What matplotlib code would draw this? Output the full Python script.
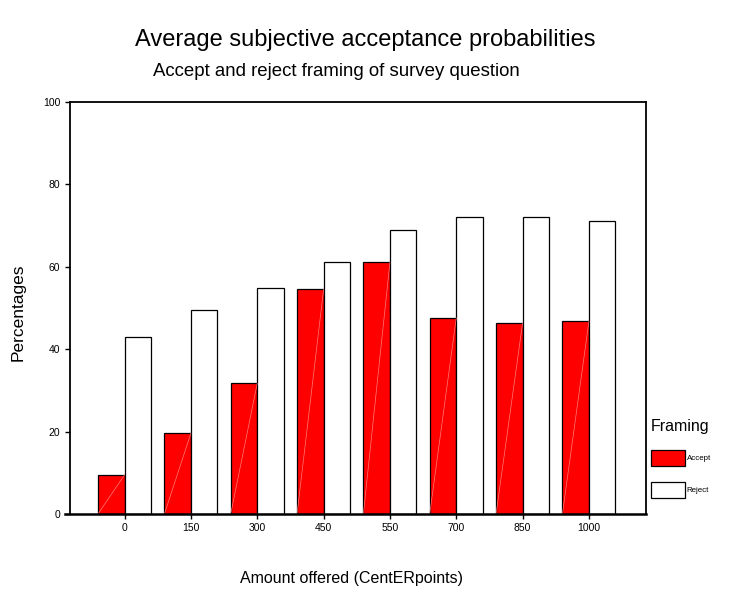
import matplotlib
matplotlib.use("Agg")
import matplotlib.pyplot as plt
import matplotlib.transforms as mtransforms
import numpy as np

plt.rcParams['font.family'] = ['Liberation Sans', 'DejaVu Sans']

categories = ['0', '150', '300', '450', '550', '700', '850', '1000']
accept = [9.5, 19.6, 31.7, 54.5, 61.1, 47.6, 46.4, 46.8]
reject = [43.0, 49.5, 54.9, 61.1, 68.9, 72.2, 72.2, 71.2]
series_labels = ['Accept', 'Reject']

fig = plt.figure(figsize=(7.31, 5.92), dpi=100)
ax = fig.add_axes([69.5/731, 1 - 514/592, (646 - 69.5)/731, (514 - 102)/592])

x = np.arange(len(categories))
w = 0.4
b1 = ax.bar(x - w/2, accept, w, color='#ff0000', edgecolor='black', linewidth=0.9, label=series_labels[0])
b2 = ax.bar(x + w/2, reject, w, color='white', edgecolor='black', linewidth=0.9, label=series_labels[1])

# faint diagonal artifact across the red bars
for p in b1.patches:
    ax.plot([p.get_x(), p.get_x() + p.get_width()], [0, p.get_height()],
            color='#ff7a7a', lw=0.5, zorder=3)

ax.set_xlim(-0.83, len(categories) - 1 + 0.86)
ax.set_ylim(0, 100)
ax.set_yticks([0, 20, 40, 60, 80, 100])
ax.set_xticks(x)
ax.set_xticklabels(categories)
ax.tick_params(axis='both', direction='out', length=3.6, width=1.0, labelsize=7.5, pad=3)

for s in ['left', 'top', 'right']:
    ax.spines[s].set_linewidth(1.3)
ax.spines['bottom'].set_visible(False)
trans = mtransforms.blended_transform_factory(ax.transAxes, ax.transData)
ax.plot([-0.008, 1.0], [0, 0], transform=trans, color='black', lw=1.8, clip_on=False, zorder=5)

fig.text(365/731, 1 - 40/592, 'Average subjective acceptance probabilities', ha='center', va='center', fontsize=17)
fig.text(336/731, 1 - 71/592, 'Accept and reject framing of survey question', ha='center', va='center', fontsize=13.4)
fig.text(352/731, 1 - 578/592, 'Amount offered (CentERpoints)', ha='center', va='center', fontsize=11.5)
fig.text(18/731, 1 - 312/592, 'Percentages', ha='center', va='center', rotation=90, fontsize=12.5)

leg = fig.legend(handles=[b1, b2], labels=series_labels, title='Framing',
                 loc='upper left', bbox_to_anchor=(648/731, 1 - 416/592),
                 frameon=False, fontsize=5.7, title_fontsize=11.5,
                 handlelength=4.3, handleheight=2.7, labelspacing=2.0,
                 handletextpad=0.2, borderaxespad=0, alignment='left')

fig.savefig('out.png', dpi=100)
